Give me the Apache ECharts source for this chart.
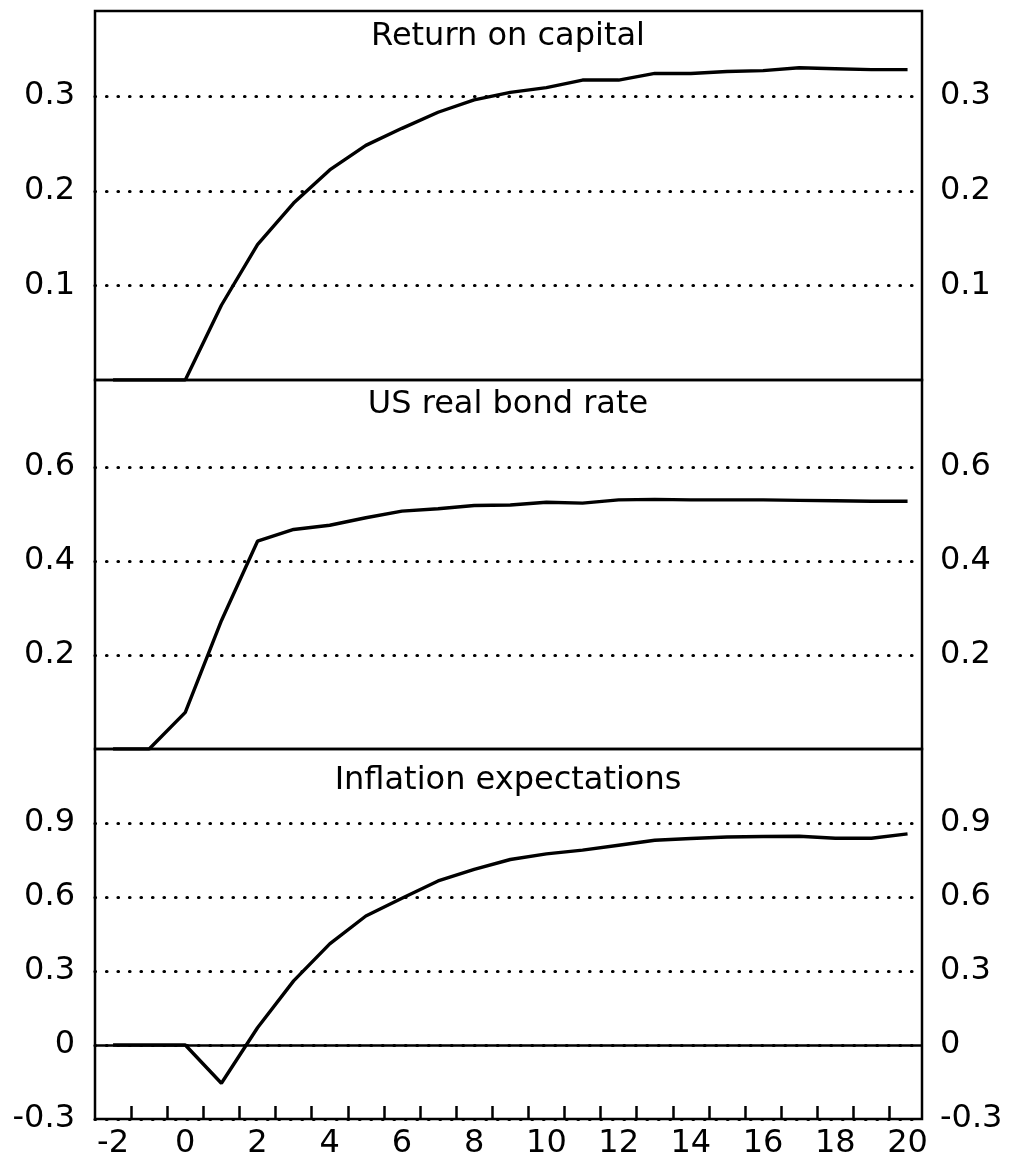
<!DOCTYPE html>
<html><head><meta charset="utf-8">
<script src="https://cdn.jsdelivr.net/npm/echarts@6/dist/echarts.min.js"></script>
<style>html,body{margin:0;padding:0;background:#fff}#c{width:1011px;height:1160px}</style>
</head><body><div id="c"></div>
<script>
const periods = [-2,-1,0,1,2,3,4,5,6,7,8,9,10,11,12,13,14,15,16,17,18,19,20];
const returnOnCapital = [0,0,0,0.079,0.143,0.187,0.222,0.248,0.266,0.283,0.296,0.304,0.309,0.317,0.317,0.324,0.324,0.326,0.327,0.330,0.329,0.328,0.328];
const usRealBondRate = [0,0,0.078,0.273,0.442,0.467,0.476,0.492,0.506,0.511,0.518,0.519,0.525,0.523,0.530,0.531,0.530,0.530,0.530,0.529,0.528,0.527,0.527];
const inflationExpectations = [0,0,0,-0.155,0.07,0.26,0.41,0.523,0.595,0.665,0.712,0.752,0.775,0.79,0.81,0.83,0.837,0.843,0.845,0.846,0.838,0.838,0.856];
const xTickValues = [-1.5,-0.5,0.5,1.5,2.5,3.5,4.5,5.5,6.5,7.5,8.5,9.5,10.5,11.5,12.5,13.5,14.5,15.5,16.5,17.5,18.5,19.5];
const xLabelValues = [-2,0,2,4,6,8,10,12,14,16,18,20];
const rocTicks = [0.1,0.2,0.3];
const bondTicks = [0.2,0.4,0.6];
const inflTicks = [-0.3,0,0.3,0.6,0.9];
const panelTitles = ['Return on capital','US real bond rate','Inflation expectations'];

const FONT = 'DejaVu Sans';
const FS = 32;
const panels = [
  {top: 11, height: 369, min: 0, max: 0.39, ticks: rocTicks, data: returnOnCapital, titleTop: 21},
  {top: 380, height: 369, min: 0, max: 0.785, ticks: bondTicks, data: usRealBondRate, titleTop: 389},
  {top: 749, height: 370, min: -0.3, max: 1.2, ticks: inflTicks, data: inflationExpectations, titleTop: 765}
];
const dotted = {color:'#000', width:3.2, type:[0.5, 11], cap:'round'};

const grid = [], xAxis = [], yAxis = [], series = [], title = [];
panels.forEach((p, i) => {
  grid.push({left:95, width:827, top:p.top, height:p.height, show:true, borderColor:'#000', borderWidth:2.5, backgroundColor:'transparent'});
  const isBottom = i === 2;
  xAxis.push({
    type:'value', gridIndex:i, min:-2.5, max:20.4,
    show: true, position:'bottom',
    axisLine:{show:false, onZero:false},
    splitLine:{show:false},
    axisTick: isBottom ? {show:true, inside:true, length:13, customValues:xTickValues, lineStyle:{color:'#000', width:2.5}} : {show:false},
    axisLabel: isBottom ? {show:true, customValues:xLabelValues, color:'#000', fontFamily:FONT, fontSize:FS, margin:9} : {show:false}
  });
  yAxis.push({
    type:'value', gridIndex:i, min:p.min, max:p.max, position:'left',
    axisLine:{show:false}, axisTick:{show:false, customValues:p.ticks},
    axisLabel:{customValues:p.ticks, color:'#000', fontFamily:FONT, fontSize:FS, margin:20},
    splitLine:{show:true, lineStyle:dotted}
  });
  yAxis.push({
    type:'value', gridIndex:i, min:p.min, max:p.max, position:'right',
    axisLine:{show:false}, axisTick:{show:false, customValues:p.ticks},
    axisLabel:{customValues:p.ticks, color:'#000', fontFamily:FONT, fontSize:FS, margin:18},
    splitLine:{show:false}
  });
  const s = {
    type:'line', xAxisIndex:i, yAxisIndex:i*2, showSymbol:false, symbol:'none',
    data: periods.map((t, k) => [t, p.data[k]]),
    lineStyle:{color:'#000', width:3.4}, z:5, animation:false
  };
  if (isBottom) {
    s.markLine = {silent:true, symbol:'none', label:{show:false}, animation:false,
      lineStyle:{color:'#000', width:2.5, type:'solid'}, data:[{yAxis:0}]};
  }
  series.push(s);
  title.push({text:panelTitles[i], left:508, top:p.titleTop, textAlign:'center', padding:0,
    textStyle:{fontFamily:FONT, fontSize:FS, fontWeight:'normal', color:'#000'}});
});

const chart = echarts.init(document.getElementById('c'), null, {renderer:'canvas'});
chart.setOption({animation:false, backgroundColor:'#fff', title, grid, xAxis, yAxis, series});
</script></body></html>
